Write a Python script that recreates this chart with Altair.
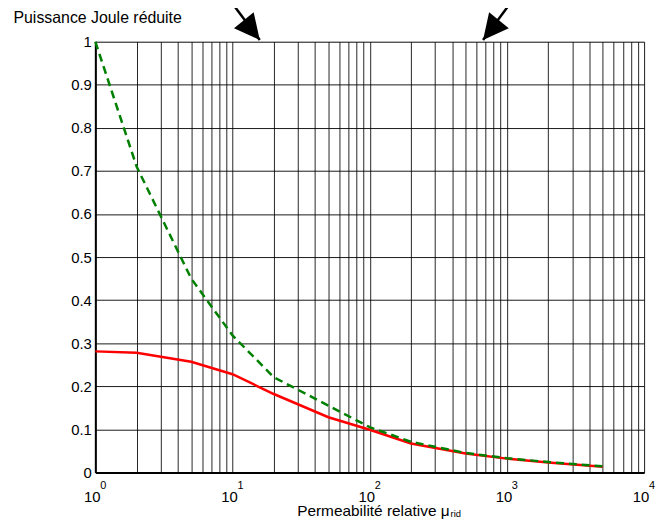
import altair as alt
import pandas as pd

# ---------------- data ----------------
mu = [1, 2, 5, 10, 20, 50, 100, 200, 500, 1000, 2000, 5000]
p_red = [0.281, 0.278, 0.257, 0.228, 0.182, 0.128, 0.099, 0.067, 0.044, 0.032, 0.023, 0.013]
p_green = [1.0, 0.71, 0.45, 0.318, 0.221, 0.155, 0.105, 0.071, 0.045, 0.033, 0.024, 0.014]

decades = [1, 10, 100, 1000, 10000]
exponents = ["0", "1", "2", "3", "4"]
y_ticks = [0.0, 0.1, 0.2, 0.3, 0.4, 0.5, 0.6, 0.7, 0.8, 0.9, 1.0]
x_grid = [k * 10 ** d for d in range(4) for k in range(1, 10)] + [10000]

# arrows (annotation), in data units: start above the frame, tip on the frame
arrow_id = ["a", "b"]
arrow_start_mu = [9.8, 1074]
arrow_tip_mu = [15.8, 670]
arrow_start_p = [1.092, 1.092]
arrow_tip_p = [1.004, 1.004]
arrow_angle = [321, 39]

y_title = "Puissance Joule réduite"
x_title_main = "Permeabilité relative μ"
x_title_sub = "rid"

FONT = "Liberation Sans"

# ---------------- tables ----------------
df_lines = pd.DataFrame({
    "mu": mu * 2,
    "p": p_red + p_green,
    "serie": ["red"] * len(mu) + ["green"] * len(mu),
})
df_shaft = pd.DataFrame({
    "id": arrow_id * 2,
    "mu": arrow_start_mu + arrow_tip_mu,
    "p": arrow_start_p + arrow_tip_p,
})
df_head = pd.DataFrame({"mu": arrow_tip_mu, "p": arrow_tip_p, "angle": arrow_angle})
df_dec = pd.DataFrame({"mu": decades, "base": ["10"] * len(decades), "exp": exponents})

xs = alt.Scale(type="log", domain=[1, 10000], nice=False)
ys = alt.Scale(domain=[0, 1], nice=False)

x_axis = alt.Axis(values=x_grid, labels=False, ticks=False, title=None, grid=True,
                  gridColor="#000000", gridWidth=1, gridOpacity=0.85,
                  domain=True, domainColor="#000000", domainWidth=2)
y_axis = alt.Axis(values=y_ticks, format=".1~f", ticks=False, grid=True,
                  gridColor="#000000", gridWidth=1, gridOpacity=0.9,
                  domain=True, domainColor="#000000", domainWidth=2,
                  labelFont=FONT, labelFontSize=15, labelColor="#000000", labelPadding=4,
                  title=y_title, titleAngle=0, titleAlign="left", titleBaseline="alphabetic",
                  titleX=-83, titleY=-19, titleFont=FONT, titleFontSize=16,
                  titleFontWeight="normal", titleColor="#000000")

red = alt.Chart(df_lines).transform_filter(alt.datum.serie == "red").mark_line(
    color="#ff0000", strokeWidth=2.5).encode(
    x=alt.X("mu:Q", scale=xs, axis=x_axis),
    y=alt.Y("p:Q", scale=ys, axis=y_axis),
)
green = alt.Chart(df_lines).transform_filter(alt.datum.serie == "green").mark_line(
    color="#008000", strokeWidth=2.5, strokeDash=[8, 5]).encode(
    x=alt.X("mu:Q", scale=xs),
    y=alt.Y("p:Q", scale=ys),
)

shaft = alt.Chart(df_shaft).mark_line(color="#000000", strokeWidth=2.5, clip=False).encode(
    x=alt.X("mu:Q", scale=xs),
    y=alt.Y("p:Q", scale=ys),
    detail="id:N",
)
head = alt.Chart(df_head).mark_point(
    shape="M0,0L-1,-2L1,-2Z", filled=True, color="#000000", opacity=1,
    size=650, clip=False).encode(
    x=alt.X("mu:Q", scale=xs),
    y=alt.Y("p:Q", scale=ys),
    angle=alt.Angle("angle:Q", scale=None),
)

tick_base = alt.Chart(df_dec).mark_text(
    align="center", baseline="alphabetic", dx=-3, font=FONT, fontSize=15,
    color="#000000", clip=False).encode(
    x=alt.X("mu:Q", scale=xs), y=alt.value(464), text="base:N")
tick_exp = alt.Chart(df_dec).mark_text(
    align="left", baseline="alphabetic", dx=5, font=FONT, fontSize=11,
    color="#000000", clip=False).encode(
    x=alt.X("mu:Q", scale=xs), y=alt.value(451), text="exp:N")

title_main = alt.Chart(pd.DataFrame({"t": [x_title_main]})).mark_text(
    align="right", baseline="alphabetic", font=FONT, fontSize=15.5,
    color="#000000", clip=False).encode(
    x=alt.value(357), y=alt.value(478), text="t:N")
title_sub = alt.Chart(pd.DataFrame({"t": [x_title_sub]})).mark_text(
    align="left", baseline="alphabetic", font=FONT, fontSize=9.5,
    color="#000000", clip=False).encode(
    x=alt.value(358), y=alt.value(479), text="t:N")

chart = alt.layer(red, green, shaft, head, tick_base, tick_exp, title_main, title_sub).properties(
    width=553, height=434,
    autosize=alt.AutoSizeParams(type="none"),
    padding={"left": 88, "top": 32, "right": 12, "bottom": 46},
).configure_view(stroke="#000000", strokeWidth=1).configure(background="#ffffff")

chart.save("out.html", embed_options={"renderer": "svg", "actions": False})
